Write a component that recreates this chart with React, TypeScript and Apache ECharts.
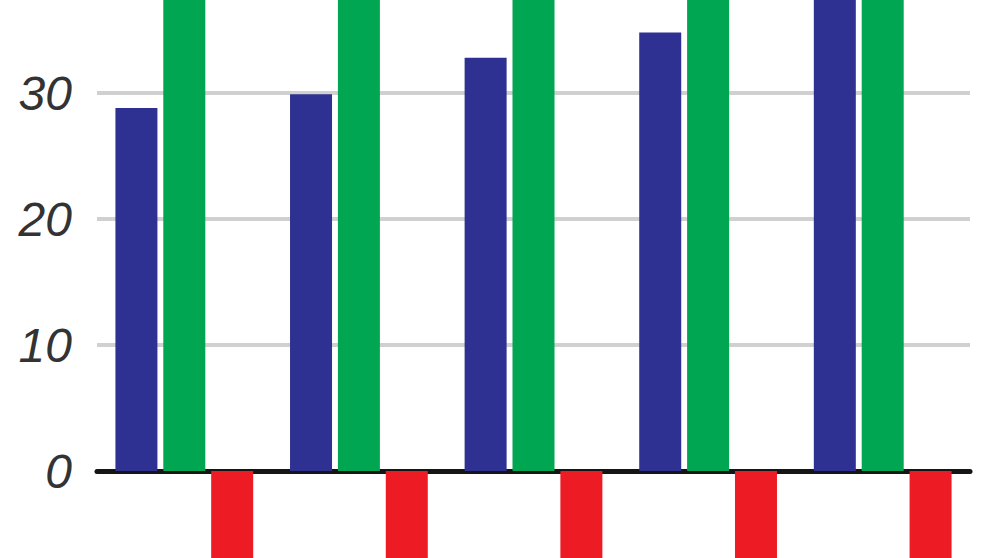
import { useEffect, useRef } from 'react';
import * as echarts from 'echarts';

// Five groups, three series each (the picture crops the tall and the negative bars)
const categories = ['1', '2', '3', '4', '5'];
const blueValues = [28.8, 29.9, 32.8, 34.8, 38];
const greenValues = [42, 43, 44, 45, 46];
const redValues = [-10, -10, -10, -10, -10];
const yTicks = [-10, 0, 10, 20, 30, 40];

export default function App() {
  const chartRef = useRef<HTMLDivElement>(null);

  useEffect(() => {
    if (!chartRef.current) return;
    document.body.style.margin = '0';

    const chart = echarts.init(chartRef.current, null, { renderer: 'svg' });

    const option: echarts.EChartsOption = {
      animation: false,
      // the plot runs past the top and bottom edges, as in the cropped original
      grid: {
        left: 97,
        right: 22,
        top: -33,
        bottom: -39,
        outerBoundsMode: 'none',
      } as any,
      xAxis: {
        type: 'category',
        data: categories,
        axisLine: { onZero: true, lineStyle: { color: '#151515', width: 5 } },
        axisTick: { show: false },
        axisLabel: { show: false },
      },
      yAxis: {
        type: 'value',
        min: yTicks[0],
        max: yTicks[yTicks.length - 1],
        interval: 10,
        axisLine: { show: false },
        axisTick: { show: false },
        axisLabel: {
          showMinLabel: false,
          showMaxLabel: false,
          color: '#333333',
          fontFamily: 'Liberation Sans',
          fontStyle: 'italic',
          fontSize: 48,
          margin: 25,
          padding: [0, 0, 20, 0],
        },
        splitLine: { lineStyle: { color: '#d0d0d0', width: 4 } },
      },
      series: [
        {
          type: 'bar',
          data: blueValues,
          barWidth: 42,
          barGap: '14%',
          itemStyle: { color: '#2e3192' },
        },
        {
          type: 'bar',
          data: greenValues,
          barWidth: 42,
          barGap: '14%',
          itemStyle: { color: '#00a651' },
        },
        {
          type: 'bar',
          data: redValues,
          barWidth: 42,
          barGap: '14%',
          itemStyle: { color: '#ed1c24' },
        },
      ],
    };

    chart.setOption(option);

    return () => {
      chart.dispose();
    };
  }, []);

  return <div ref={chartRef} style={{ width: 992, height: 558 }} />;
}
